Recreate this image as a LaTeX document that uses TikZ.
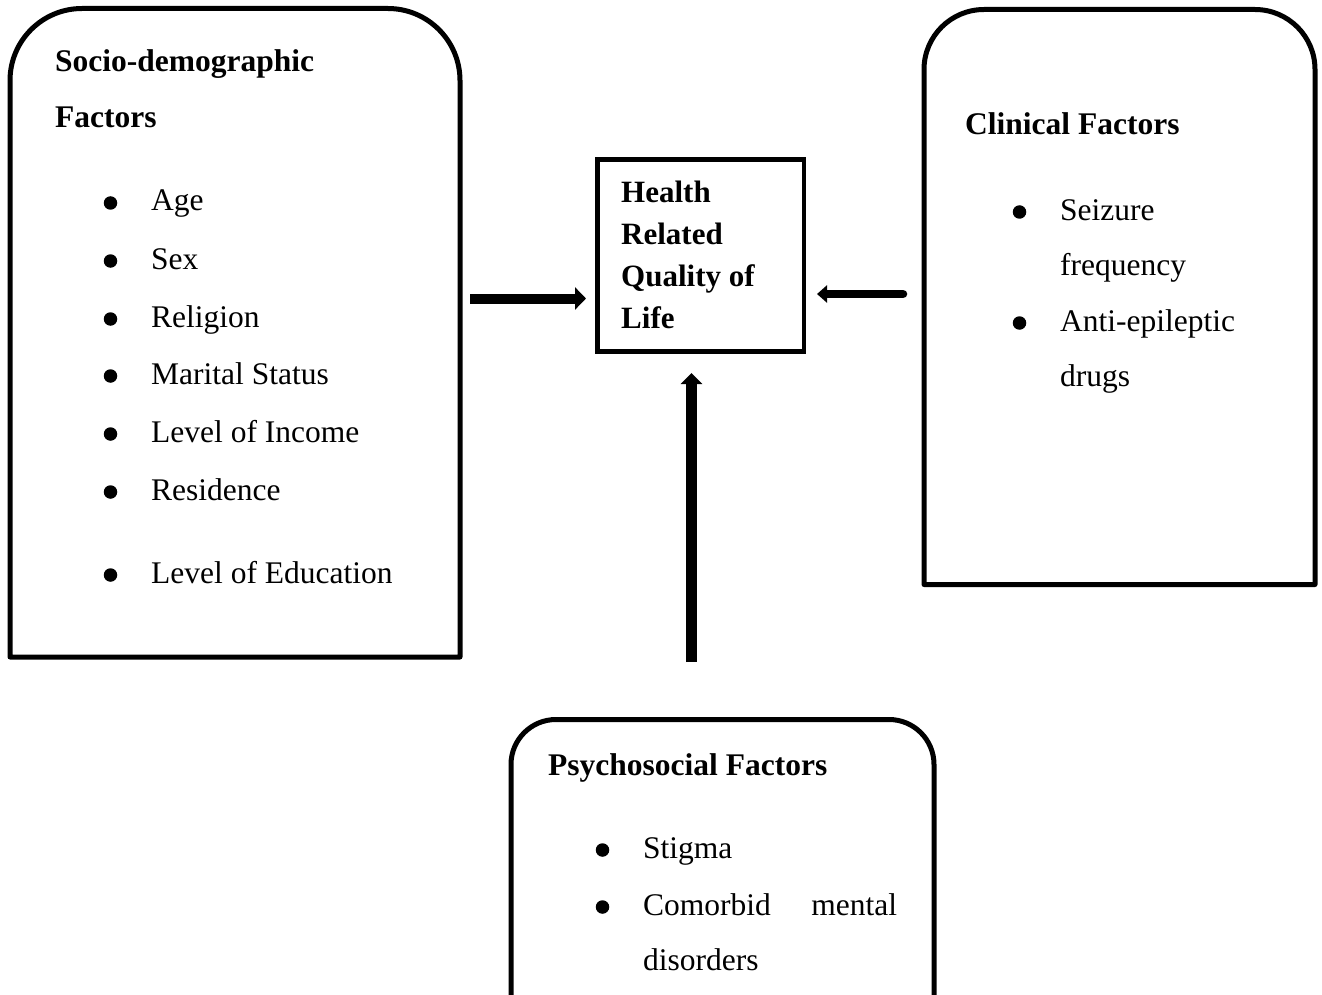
\documentclass[tikz,border=0pt]{standalone}
\usepackage{fontspec}
\setmainfont{Liberation Serif}
\usetikzlibrary{arrows.meta}
\begin{document}
\begin{tikzpicture}[x=1pt,y=-1pt,
  boxline/.style={line width=5, line join=round},
  txt/.style={anchor=base west, inner sep=0, font=\fontsize{31.5}{38}\selectfont},
  ttl/.style={txt, font=\fontsize{31.5}{38}\selectfont\bfseries},
  bul/.style={circle, fill=black, inner sep=0, minimum size=13.5},
  thickarrow/.style={line width=10, -{Triangle[length=11pt,width=22pt]}}
]
\useasboundingbox (0,0) rectangle (1322,995);
\clip (0,0) rectangle (1322,995);

% ---------- boxes ----------
\draw[boxline] (10,657) -- (10,80.5) arc[start angle=180,end angle=270,radius=72]
  -- (388,8.5) arc[start angle=270,end angle=360,radius=72] -- (460,657) -- cycle;
\draw[boxline] (924,584.5) -- (924,69.5) arc[start angle=180,end angle=270,radius=60]
  -- (1255,9.5) arc[start angle=270,end angle=360,radius=60] -- (1315,584.5) -- cycle;
\draw[boxline] (511,1010) -- (511,764.5) arc[start angle=180,end angle=270,radius=45]
  -- (889,719.5) arc[start angle=270,end angle=360,radius=45] -- (934,1010);

\node[draw, line width=4.5, inner sep=0, minimum width=206.5, minimum height=192] (hrql) at (700.75,255.5) {};

% ---------- centre text ----------
\node[ttl, font=\fontsize{31}{38}\selectfont\bfseries] (h1) at (621,203) {Health};
\node[ttl, font=\fontsize{31}{38}\selectfont\bfseries] (h2) at (621,244) {Related};
\node[ttl, font=\fontsize{31}{38}\selectfont\bfseries] (h3) at (621,286) {Quality of};
\node[ttl, font=\fontsize{31}{38}\selectfont\bfseries] (h4) at (621,328) {Life};

% ---------- socio-demographic ----------
\node[ttl] (s1) at (55,72) {Socio-demographic};
\node[ttl] (s2) at (55,128) {Factors};
\foreach \y/\t [count=\i] in {211/Age,269/Sex,327/Religion,384/Marital Status,442/Level of Income,500/Residence,583/Level of Education}{
  \node[bul] (sb\i) at (110.5,\y-8) {};
  \node[txt] (st\i) at (151,\y) {\t};
}

% ---------- clinical ----------
\node[ttl] (c0) at (965,135) {Clinical Factors};
\node[bul] (cb1) at (1019.5,212) {};
\node[txt] (ct1) at (1060,220) {Seizure};
\node[txt] (ct1b) at (1060,275) {frequency};
\node[bul] (cb2) at (1019.5,323) {};
\node[txt] (ct2) at (1060,331) {Anti-epileptic};
\node[txt] (ct2b) at (1060,386) {drugs};

% ---------- psychosocial ----------
\node[ttl] (p0) at (548,775) {Psychosocial Factors};
\node[bul] (pb1) at (602.5,850) {};
\node[txt] (pt1) at (643,858) {Stigma};
\node[bul] (pb2) at (602.5,907) {};
\node[txt] (pt2) at (643,915) {\hbox to 254pt{Comorbid\hfill mental}};
\node[txt] (pt2b) at (643,970) {disorders};

% ---------- arrows ----------
\coordinate (la) at (470,298.5);
\coordinate (lb) at (586,298.5);
\coordinate (ra) at (903,294);
\coordinate (rb) at (817,294);
\coordinate (va) at (691.5,662);
\coordinate (vb) at (691.5,373);
\draw[thickarrow] (la) -- (lb);
\draw[line width=8.5, line cap=round, -{Triangle[length=10pt,width=17pt]}] (ra) -- (rb);
\draw[line width=11, -{Triangle[length=11pt,width=21pt]}] (va) -- (vb);
\end{tikzpicture}
\end{document}
